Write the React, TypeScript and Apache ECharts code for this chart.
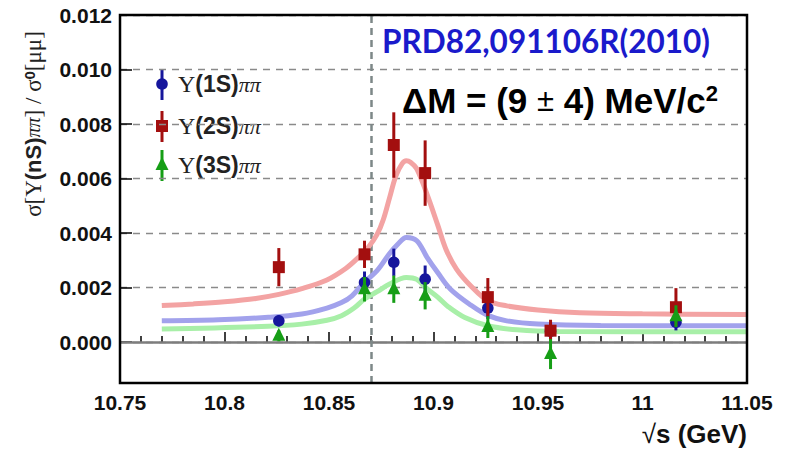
import React, { useEffect, useRef } from "react";
import * as echarts from "echarts";

// Axis ranges and ticks
const X_MIN = 10.75;
const X_MAX = 11.05;
const X_STEP = 0.05;
const Y_MIN = -0.0015;
const Y_MAX = 0.012;
const yTickValues = [0, 0.002, 0.004, 0.006, 0.008, 0.01, 0.012];

// Scan energies (GeV)
const energies = [10.826, 10.867, 10.881, 10.896, 10.926, 10.956, 11.016];

// Measured ratios with errors
const ups1S = [0.00078, 0.00219, 0.00293, 0.00231, 0.00125, 0.0004, 0.00073];
const ups1SErr = [0.0002, 0.0004, 0.0005, 0.0005, 0.0004, 0.0003, 0.0003];
const ups2S = [0.00275, 0.00322, 0.00723, 0.0062, 0.00165, 0.00042, 0.00128];
const ups2SErr = [0.0007, 0.0005, 0.0012, 0.0012, 0.0007, 0.0004, 0.0007];
const ups3S = [0.00023, 0.00194, 0.00194, 0.0017, 0.00055, -0.00044, 0.00095];
const ups3SErr = [0.0002, 0.00045, 0.0005, 0.0005, 0.0004, 0.00055, 0.0004];

// Fitted line shapes
const fit2S = [
  [10.77, 0.00134], [10.785, 0.0014], [10.8, 0.00148], [10.815, 0.0016], [10.826, 0.00175],
  [10.837, 0.00196], [10.849, 0.00228], [10.858, 0.0027], [10.864, 0.0031], [10.869, 0.0035],
  [10.873, 0.00395], [10.876, 0.0045], [10.879, 0.0053], [10.882, 0.0061], [10.885, 0.00655],
  [10.887, 0.00665], [10.889, 0.0066], [10.892, 0.00636], [10.897, 0.0054], [10.902, 0.0043],
  [10.906, 0.0034], [10.911, 0.00268], [10.918, 0.00205], [10.926, 0.00152], [10.935, 0.00133],
  [10.95, 0.00118], [10.97, 0.00108], [11.0, 0.00104], [11.05, 0.00101],
];
const fit1S = [
  [10.77, 0.00078], [10.797, 0.00082], [10.821, 0.00091], [10.837, 0.00103], [10.849, 0.00125],
  [10.856, 0.00145], [10.861, 0.0017], [10.867, 0.0022], [10.873, 0.00262], [10.879, 0.00325],
  [10.883, 0.0036], [10.887, 0.00384], [10.892, 0.00372], [10.897, 0.0031], [10.902, 0.00255],
  [10.908, 0.00195], [10.918, 0.00135], [10.926, 0.00098], [10.935, 0.00078], [10.95, 0.00066],
  [10.98, 0.00061], [11.05, 0.0006],
];
const fit3S = [
  [10.77, 0.00048], [10.821, 0.00058], [10.837, 0.00066], [10.849, 0.0008], [10.856, 0.00097],
  [10.862, 0.00125], [10.867, 0.00158], [10.873, 0.00185], [10.879, 0.00213], [10.887, 0.00237],
  [10.892, 0.0023], [10.897, 0.00195], [10.902, 0.00165], [10.907, 0.0013], [10.915, 0.0009],
  [10.926, 0.0006], [10.94, 0.00045], [10.96, 0.00039], [11.05, 0.00038],
];

const RESONANCE_MASS = 10.873;

const BLUE = "#16169c";
const RED = "#a30f0f";
const GREEN = "#169e16";
const BLUE_FIT = "#a2a2ec";
const RED_FIT = "#f3a3a3";
const GREEN_FIT = "#a8efa8";

type Shape = "circle" | "square" | "triangle";

function markerAt(shape: Shape, cx: number, cy: number, color: string) {
  if (shape === "circle") {
    return { type: "circle", shape: { cx, cy, r: 5.8 }, style: { fill: color } };
  }
  if (shape === "square") {
    return { type: "rect", shape: { x: cx - 6, y: cy - 6, width: 12, height: 12 }, style: { fill: color } };
  }
  return {
    type: "polygon",
    shape: { points: [[cx, cy - 8], [cx - 6.5, cy + 5], [cx + 6.5, cy + 5]] },
    style: { fill: color },
  };
}

function pointSeries(name: string, ys: number[], errs: number[], color: string, shape: Shape, z: number) {
  return {
    type: "custom",
    name,
    z,
    data: energies.map((x, i) => [x, ys[i], errs[i]]),
    renderItem: (_params: any, api: any) => {
      const x = api.value(0);
      const y = api.value(1);
      const e = api.value(2);
      const c = api.coord([x, y]);
      const hi = api.coord([x, y + e]);
      const lo = api.coord([x, y - e]);
      return {
        type: "group",
        children: [
          {
            type: "line",
            shape: { x1: c[0], y1: hi[1], x2: c[0], y2: lo[1] },
            style: { stroke: color, lineWidth: 3 },
          },
          markerAt(shape, c[0], c[1], color),
        ],
      };
    },
  };
}

function fitSeries(name: string, data: number[][], color: string, extra: any = {}) {
  return {
    type: "line",
    name,
    data,
    smooth: 0.35,
    showSymbol: false,
    z: 2,
    lineStyle: { color, width: 5 },
    ...extra,
  };
}

const SERIF = "'Liberation Serif', 'DejaVu Serif', serif";
const SANS = "'Liberation Sans', Arial, sans-serif";

const legendEntries: { tag: string; color: string; shape: Shape; y: number }[] = [
  { tag: "(1S)", color: BLUE, shape: "circle", y: 84 },
  { tag: "(2S)", color: RED, shape: "square", y: 126 },
  { tag: "(3S)", color: GREEN, shape: "triangle", y: 165 },
];

const labelRich = {
  s: { fontFamily: SERIF, fontSize: 24, fill: "#222" },
  b: { fontFamily: SANS, fontWeight: "bold", fontSize: 23, fill: "#222" },
  i: { fontFamily: SERIF, fontStyle: "italic", fontSize: 22, fill: "#222" },
};

export default function App() {
  const ref = useRef<HTMLDivElement>(null);

  useEffect(() => {
    if (!ref.current) return;
    const chart = echarts.init(ref.current, undefined, { renderer: "svg" });

    const legendGraphics: any[] = [];
    legendEntries.forEach((e) => {
      legendGraphics.push({
        type: "line",
        shape: { x1: 162, y1: e.y - 15, x2: 162, y2: e.y + 16 },
        style: { stroke: e.color, lineWidth: 3 },
      });
      legendGraphics.push(markerAt(e.shape, 162, e.y, e.color));
      legendGraphics.push({
        type: "text",
        x: 178,
        y: e.y,
        style: {
          text: `{s|Υ}{b|${e.tag}}{i|ππ}`,
          rich: labelRich,
          verticalAlign: "middle",
          align: "left",
        },
      });
    });

    chart.setOption({
      animation: false,
      backgroundColor: "#ffffff",
      grid: {
        left: 120,
        right: 40,
        top: 15,
        bottom: 67,
        show: true,
        borderColor: "#000",
        borderWidth: 2.5,
        backgroundColor: "transparent",
        z: 10,
      },
      xAxis: {
        type: "value",
        min: X_MIN,
        max: X_MAX,
        interval: X_STEP,
        axisLine: { show: false },
        axisTick: { show: true, inside: true, length: 10, lineStyle: { color: "#000", width: 1.5 } },
        minorTick: { show: true, splitNumber: 5, length: 6, lineStyle: { color: "#000", width: 1.5 } },
        splitLine: { show: false },
        axisLabel: {
          formatter: (v: number) => String(Number(v.toFixed(2))),
          fontFamily: SANS,
          fontWeight: "bold",
          fontSize: 21,
          color: "#111",
          margin: 9,
        },
      },
      yAxis: {
        type: "value",
        min: Y_MIN,
        max: Y_MAX,
        axisLine: { show: false },
        axisTick: {
          show: true,
          inside: true,
          length: 12,
          customValues: yTickValues,
          lineStyle: { color: "#000", width: 1.5 },
        },
        splitLine: { show: true, lineStyle: { color: "#8a8a8a", width: 1.3, type: [7, 6] } },
        axisLabel: {
          customValues: yTickValues,
          formatter: (v: number) => v.toFixed(3),
          fontFamily: SANS,
          fontWeight: "bold",
          fontSize: 21,
          color: "#111",
          margin: 8,
        },
      },
      graphic: [
        {
          type: "text",
          x: 33,
          y: 124,
          rotation: Math.PI / 2,
          style: {
            text: "{s|σ[}{s|Υ}{b|(nS)}{i|ππ}{s|] / σ}{sup|0}{s|[μμ]}",
            rich: {
              s: { fontFamily: SERIF, fontSize: 23, fill: "#222" },
              b: { fontFamily: SANS, fontWeight: "bold", fontSize: 22, fill: "#222" },
              i: { fontFamily: SERIF, fontStyle: "italic", fontSize: 20, fill: "#222" },
              sup: { fontFamily: SANS, fontWeight: "bold", fontSize: 15, fill: "#222", verticalAlign: "top" },
            },
            align: "center",
            verticalAlign: "middle",
          },
        },
        ...legendGraphics,
        {
          type: "text",
          x: 382,
          y: 41,
          style: {
            text: "PRD82,091106R(2010)",
            fontFamily: "Lato, 'Open Sans', sans-serif",
            fontWeight: "bold",
            fontSize: 31.5,
            fill: "#1a1acb",
            align: "left",
            verticalAlign: "middle",
          },
        },
        {
          type: "text",
          x: 402,
          y: 100,
          style: {
            text: "{b|ΔM = (9 }{r|±}{b| 4) MeV/c}{sup|2}",
            rich: {
              b: { fontFamily: SANS, fontWeight: "bold", fontSize: 35, fill: "#000" },
              r: { fontFamily: SANS, fontSize: 31, fill: "#000" },
              sup: { fontFamily: SANS, fontWeight: "bold", fontSize: 22, fill: "#000", verticalAlign: "top" },
            },
            align: "left",
            verticalAlign: "middle",
          },
        },
        {
          type: "text",
          x: 747,
          y: 434,
          style: {
            text: "{r|√}{b|s (GeV)}",
            rich: {
              r: { fontFamily: SANS, fontSize: 26, fill: "#111", lineHeight: 28 },
              b: { fontFamily: SANS, fontWeight: "bold", fontSize: 26, fill: "#111", lineHeight: 28 },
            },
            align: "right",
            verticalAlign: "middle",
          },
        },
      ],
      series: [
        fitSeries("fit 2S", fit2S, RED_FIT, {
          markLine: {
            silent: true,
            symbol: "none",
            label: { show: false },
            z: 1,
            data: [
              { yAxis: 0, lineStyle: { color: "#7d7d7d", width: 2.5, type: "solid" } },
              { xAxis: RESONANCE_MASS, lineStyle: { color: "#7d8888", width: 2.5, type: [7, 5] } },
            ],
          },
        }),
        fitSeries("fit 1S", fit1S, BLUE_FIT),
        fitSeries("fit 3S", fit3S, GREEN_FIT),
        pointSeries("Υ(1S)ππ", ups1S, ups1SErr, BLUE, "circle", 5),
        pointSeries("Υ(2S)ππ", ups2S, ups2SErr, RED, "square", 6),
        pointSeries("Υ(3S)ππ", ups3S, ups3SErr, GREEN, "triangle", 7),
      ],
    });

    return () => chart.dispose();
  }, []);

  return (
    <div
      ref={ref}
      style={{ position: "fixed", left: 0, top: 0, width: 787, height: 450, background: "#fff" }}
    />
  );
}
